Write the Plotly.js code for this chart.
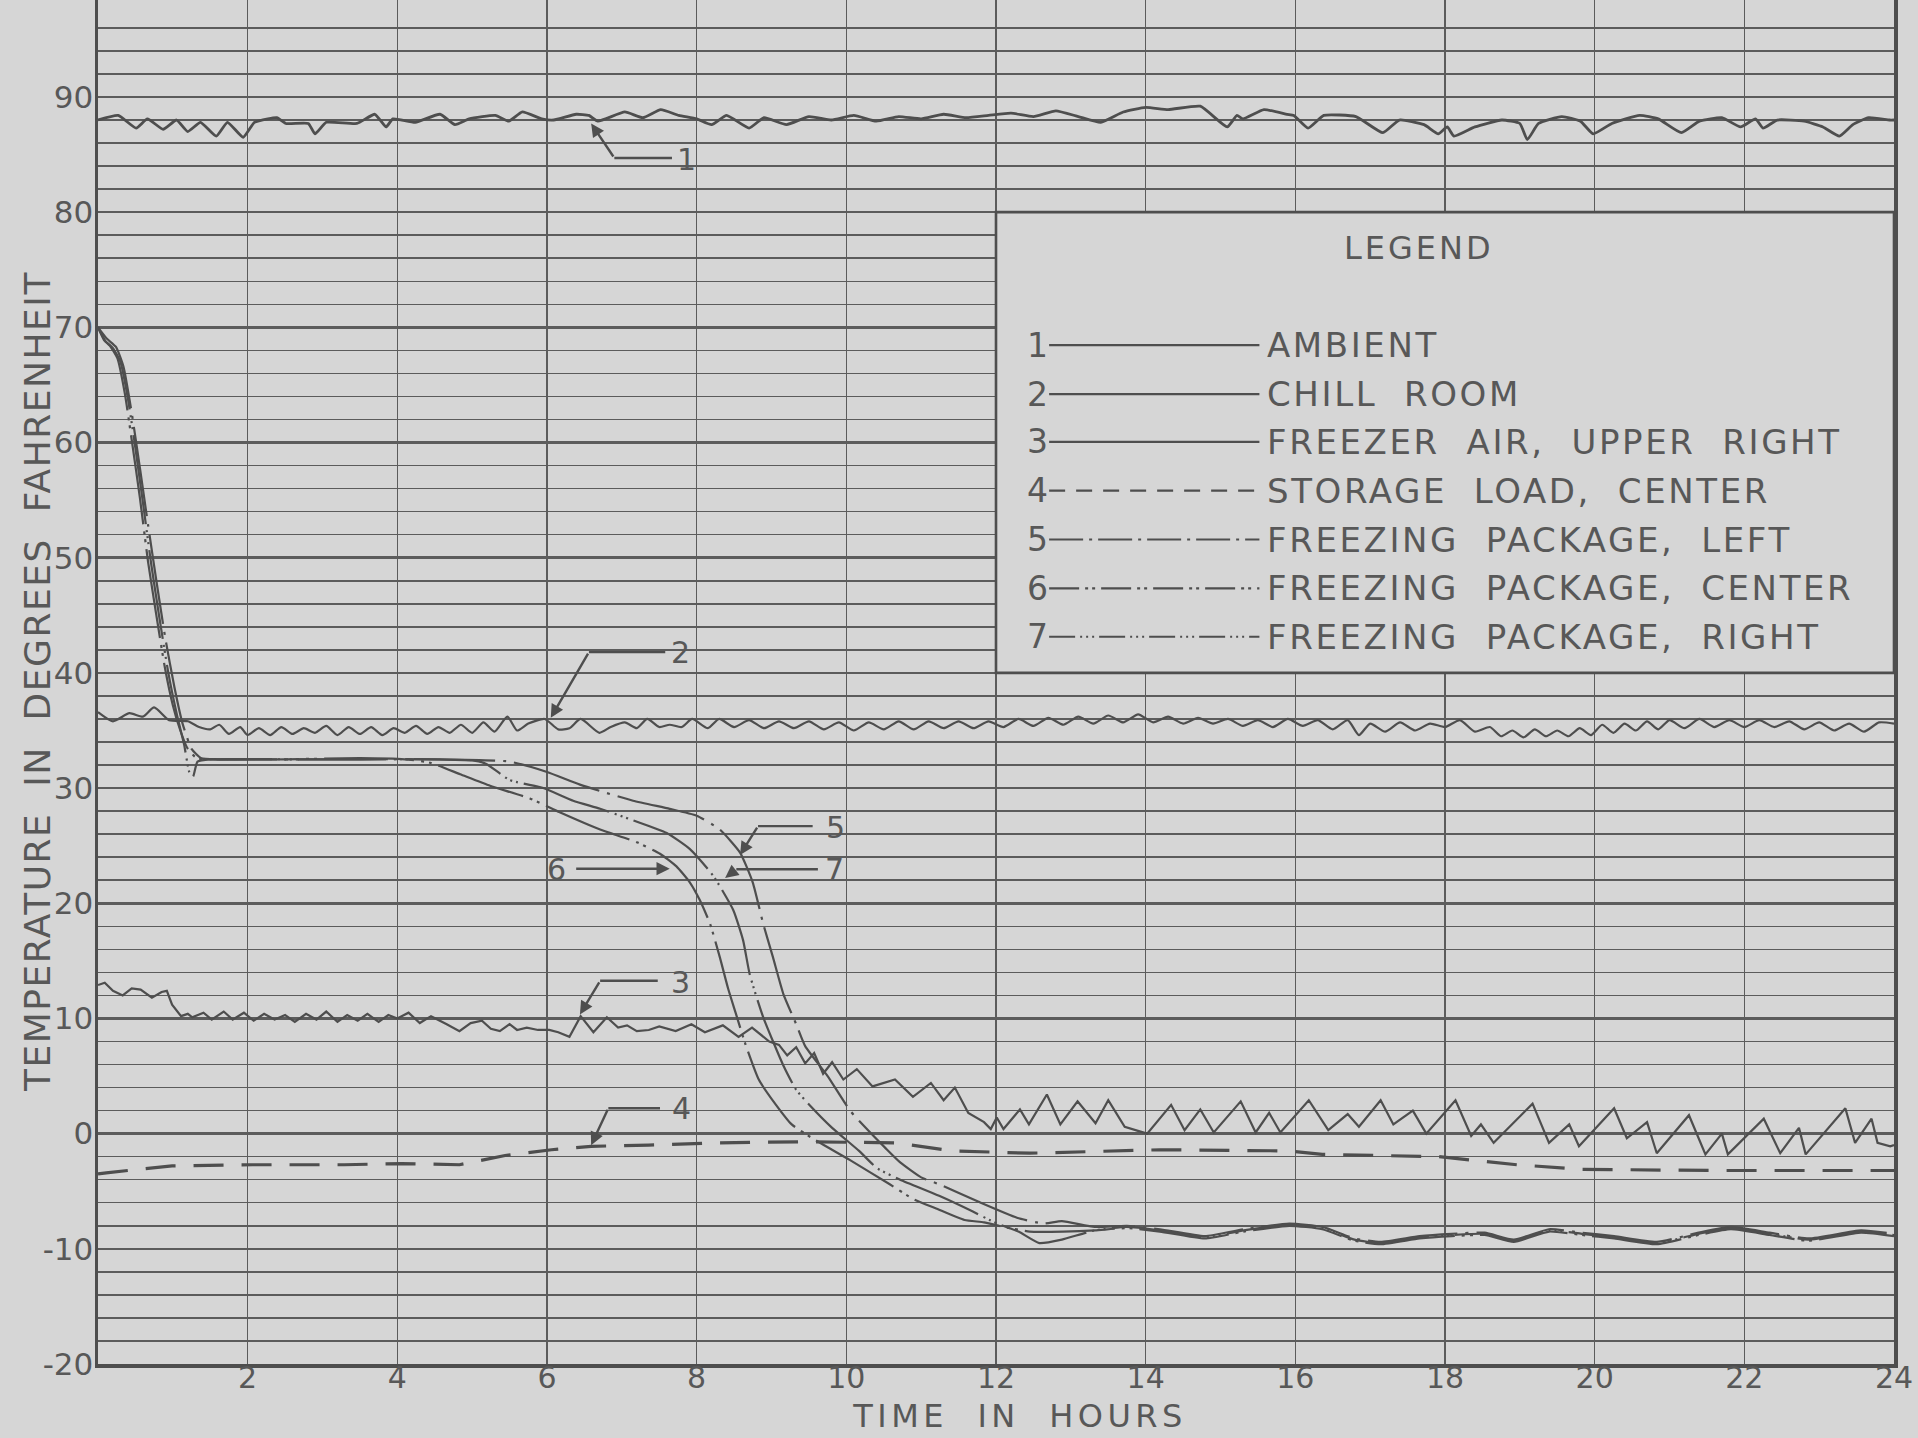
<!DOCTYPE html>
<html>
<head>
<meta charset="utf-8">
<script src="https://cdn.plot.ly/plotly-3.0.1.min.js"></script>
<style>
  html, body { margin: 0; padding: 0; background: #d6d6d6; }
  #chart { width: 1918px; height: 1438px; }
</style>
</head>
<body>
<div id="chart"></div>
<script>
// Temperature records over 24 hours: [hour, degrees F]
const ambient = [
  [0.0,88.0],[0.27,88.4],[0.51,87.3],[0.66,88.1],[0.87,87.2],[1.05,88.0],[1.2,87.0],[1.37,87.8],
  [1.58,86.6],[1.73,87.8],[1.94,86.5],[2.09,87.8],[2.27,88.1],[2.39,88.2],[2.51,87.7],[2.81,87.7],
  [2.9,86.8],[3.05,87.8],[3.46,87.7],[3.7,88.5],[3.85,87.4],[3.94,88.1],[4.24,87.8],[4.57,88.5],
  [4.77,87.6],[4.96,88.1],[5.31,88.4],[5.49,87.9],[5.67,88.7],[5.93,88.1],[6.09,88.0],[6.39,88.5],
  [6.56,88.4],[6.68,87.9],[7.04,88.7],[7.28,88.2],[7.52,88.9],[7.76,88.4],[8.0,88.1],[8.2,87.6],
  [8.4,88.4],[8.7,87.3],[8.9,88.2],[9.2,87.6],[9.5,88.3],[9.8,88.0],[10.1,88.4],[10.4,87.9],
  [10.7,88.3],[11.0,88.1],[11.3,88.5],[11.6,88.2],[11.9,88.4],[12.2,88.6],[12.5,88.3],[12.8,88.8],
  [13.1,88.3],[13.4,87.8],[13.7,88.7],[14.0,89.1],[14.3,88.9],[14.73,89.2],[15.09,87.4],[15.22,88.4],
  [15.3,88.1],[15.58,88.9],[15.89,88.5],[15.98,88.4],[16.17,87.3],[16.38,88.4],[16.81,88.3],[17.17,86.9],
  [17.39,88.0],[17.72,87.6],[17.91,86.8],[18.03,87.4],[18.12,86.6],[18.4,87.4],[18.76,88.0],[19.0,87.7],
  [19.1,86.3],[19.25,87.7],[19.56,88.3],[19.81,87.9],[19.98,86.8],[20.23,87.7],[20.6,88.4],[20.85,88.1],
  [21.16,86.9],[21.4,87.9],[21.7,88.2],[21.95,87.4],[22.15,88.1],[22.25,87.3],[22.44,88.0],[22.8,87.9],
  [23.05,87.4],[23.27,86.6],[23.45,87.6],[23.66,88.2],[23.94,88.0],[24.0,88.0]
];

const chillRoom = [
  [0.0,36.6],[0.2,35.8],[0.42,36.5],[0.6,36.2],[0.75,37.0],[0.95,35.9],[1.2,35.8],[1.35,35.3],
  [1.5,35.1],[1.62,35.5],[1.75,34.7],[1.9,35.3],[2.0,34.6],[2.15,35.2],[2.3,34.6],[2.45,35.3],
  [2.6,34.7],[2.75,35.2],[2.9,34.8],[3.05,35.4],[3.2,34.6],[3.35,35.3],[3.5,34.7],[3.65,35.3],
  [3.8,34.6],[3.95,35.2],[4.1,34.8],[4.25,35.4],[4.4,34.7],[4.55,35.3],[4.7,34.8],[4.85,35.5],
  [5.0,34.8],[5.15,35.7],[5.3,34.9],[5.47,36.2],[5.6,35.0],[5.75,35.6],[5.97,36.0],[6.15,35.1],
  [6.3,35.2],[6.45,36.0],[6.7,34.8],[6.85,35.3],[7.04,35.7],[7.2,35.2],[7.34,36.0],[7.5,35.3],
  [7.64,35.5],[7.8,35.3],[7.94,36.0],[8.15,35.2],[8.3,36.0],[8.5,35.3],[8.7,35.9],[8.9,35.2],
  [9.1,35.8],[9.3,35.2],[9.5,35.8],[9.7,35.1],[9.9,35.7],[10.1,35.0],[10.3,35.7],[10.5,35.1],
  [10.7,35.8],[10.9,35.1],[11.1,35.8],[11.3,35.2],[11.5,35.8],[11.7,35.2],[11.9,35.8],[12.1,35.3],
  [12.3,36.0],[12.5,35.4],[12.7,36.1],[12.9,35.5],[13.1,36.2],[13.3,35.6],[13.5,36.3],[13.7,35.7],
  [13.9,36.4],[14.1,35.7],[14.3,36.2],[14.5,35.6],[14.7,36.1],[14.9,35.6],[15.1,36.0],[15.3,35.4],
  [15.5,35.9],[15.7,35.3],[15.9,36.0],[16.1,35.4],[16.3,35.9],[16.5,35.1],[16.7,35.9],[16.85,34.6],
  [17.0,35.6],[17.2,34.9],[17.4,35.7],[17.6,35.0],[17.8,35.6],[18.0,35.3],[18.2,35.9],[18.4,34.9],
  [18.6,35.3],[18.75,34.5],[18.9,35.0],[19.05,34.4],[19.2,35.1],[19.35,34.5],[19.5,35.0],[19.65,34.5],
  [19.8,35.2],[19.95,34.6],[20.1,35.5],[20.25,34.8],[20.4,35.6],[20.55,35.0],[20.7,35.8],[20.85,35.1],
  [21.0,35.9],[21.2,35.2],[21.4,36.0],[21.6,35.3],[21.8,35.9],[22.0,35.3],[22.2,35.9],[22.4,35.3],
  [22.6,35.8],[22.8,35.1],[23.0,35.7],[23.2,35.0],[23.4,35.6],[23.6,34.9],[23.8,35.7],[24.0,35.6]
];

const freezerAir = [
  [0.0,12.9],[0.09,13.1],[0.2,12.4],[0.33,12.0],[0.45,12.6],[0.57,12.5],[0.72,11.8],[0.85,12.3],
  [0.92,12.4],[0.99,11.2],[1.11,10.2],[1.2,10.4],[1.26,10.1],[1.41,10.5],[1.52,9.9],[1.68,10.6],
  [1.8,9.9],[1.95,10.5],[2.08,9.8],[2.22,10.4],[2.36,9.9],[2.5,10.3],[2.63,9.7],[2.78,10.4],
  [2.92,9.9],[3.05,10.6],[3.2,9.7],[3.33,10.3],[3.47,9.8],[3.6,10.4],[3.75,9.7],[3.88,10.3],
  [4.0,10.0],[4.15,10.5],[4.3,9.6],[4.45,10.2],[4.66,9.5],[4.83,8.9],[4.98,9.6],[5.13,9.8],
  [5.25,9.1],[5.37,8.9],[5.5,9.5],[5.6,9.0],[5.73,9.2],[5.88,9.0],[6.03,9.0],[6.15,8.8],
  [6.3,8.4],[6.45,10.2],[6.62,8.8],[6.8,10.1],[6.95,9.2],[7.07,9.4],[7.2,8.9],[7.36,9.0],
  [7.5,9.3],[7.72,8.9],[7.93,9.5],[8.11,8.8],[8.35,9.4],[8.56,8.4],[8.74,9.2],[8.97,8.0],
  [9.1,7.7],[9.21,6.8],[9.33,7.5],[9.45,6.1],[9.57,7.0],[9.69,5.2],[9.81,6.2],[9.96,4.7],
  [10.14,5.6],[10.35,4.1],[10.65,4.7],[10.89,3.2],[11.13,4.4],[11.3,2.9],[11.45,4.0],[11.63,1.8],
  [11.84,1.0],[11.93,0.4],[12.01,1.4],[12.1,0.4],[12.32,2.1],[12.44,0.8],[12.68,3.4],[12.86,0.8],
  [13.09,2.8],[13.33,0.9],[13.5,2.9],[13.72,0.6],[14.02,0.0],[14.34,2.5],[14.52,0.3],[14.73,2.1],
  [14.91,0.1],[15.27,2.8],[15.47,0.1],[15.65,1.8],[15.8,0.1],[16.18,2.9],[16.44,0.3],[16.7,1.7],
  [16.85,0.6],[17.14,2.9],[17.31,0.8],[17.57,2.0],[17.75,0.0],[18.14,2.9],[18.35,-0.2],[18.48,0.8],
  [18.65,-0.8],[19.17,2.6],[19.39,-0.8],[19.66,0.8],[19.79,-1.1],[20.26,2.2],[20.43,-0.4],[20.7,1.0],
  [20.83,-1.7],[21.26,1.6],[21.48,-1.8],[21.7,0.0],[21.78,-1.8],[22.26,1.3],[22.48,-1.7],[22.73,0.5],
  [22.82,-1.8],[23.35,2.2],[23.48,-0.8],[23.7,1.3],[23.78,-0.8],[23.95,-1.1],[24.0,-1.0]
];

const storageLoad = [
  [0.0,-3.5],[0.11,-3.4],[0.99,-2.8],[2.07,-2.7],[3.29,-2.7],[4.06,-2.6],[4.83,-2.7],[5.06,-2.4],
  [5.44,-1.9],[6.06,-1.4],[6.59,-1.1],[7.36,-1.0],[8.28,-0.8],[9.43,-0.7],[10.66,-0.8],[11.41,-1.5],
  [12.45,-1.7],[14.19,-1.4],[15.92,-1.5],[16.36,-1.8],[17.23,-1.9],[17.92,-2.0],[18.35,-2.3],[18.96,-2.7],
  [19.83,-3.1],[21.56,-3.2],[23.73,-3.2],[24.0,-3.2]
];

const packageLeft = [
  [0.0,70.0],[0.12,69.0],[0.24,68.3],[0.34,66.6],[0.45,62.6],[0.56,57.8],[0.67,52.8],[0.78,48.0],
  [0.9,43.0],[1.02,38.8],[1.13,35.6],[1.25,33.4],[1.38,32.6],[1.6,32.5],[2.5,32.5],[3.5,32.5],
  [4.5,32.5],[5.5,32.3],[6.0,31.4],[6.44,30.3],[7.15,28.9],[7.64,28.2],[8.0,27.6],[8.31,26.4],
  [8.58,24.4],[8.75,21.8],[8.89,18.2],[9.02,15.3],[9.16,12.1],[9.33,9.5],[9.45,7.6],[9.75,5.0],
  [10.05,2.0],[10.23,0.7],[10.53,-1.3],[10.72,-2.5],[11.0,-3.8],[11.24,-4.4],[11.76,-5.9],[12.28,-7.3],
  [12.63,-7.8],[12.88,-7.6],[13.32,-8.1],[13.75,-8.0],[14.19,-8.3],[14.79,-8.9],[15.31,-8.3],[15.92,-7.8],
  [16.36,-8.1],[16.79,-9.1],[17.14,-9.4],[17.66,-8.9],[18.09,-8.7],[18.53,-8.6],[18.92,-9.2],[19.39,-8.3],
  [19.83,-8.6],[20.26,-8.9],[20.83,-9.4],[21.39,-8.6],[21.82,-8.1],[22.34,-8.6],[22.86,-9.1],[23.56,-8.4],
  [24.0,-8.7]
];

const packageCenter = [
  [0.0,70.0],[0.08,68.9],[0.16,68.4],[0.26,67.3],[0.36,64.2],[0.46,59.8],[0.56,55.2],[0.67,49.6],
  [0.78,45.0],[0.89,40.6],[1.0,37.2],[1.1,35.0],[1.2,33.4],[1.32,32.6],[1.5,32.5],[2.5,32.5],
  [3.5,32.6],[4.1,32.5],[4.44,32.2],[4.84,31.2],[5.24,30.2],[5.77,29.1],[6.17,27.9],[6.71,26.4],
  [7.2,25.3],[7.51,24.3],[7.73,23.2],[7.91,21.8],[8.04,20.3],[8.18,18.2],[8.31,15.3],[8.42,12.6],
  [8.52,10.5],[8.65,7.8],[8.83,4.7],[9.06,2.5],[9.27,0.8],[9.57,-0.5],[10.05,-2.3],[10.58,-4.4],
  [10.9,-5.7],[11.2,-6.5],[11.58,-7.5],[11.84,-7.7],[12.1,-8.1],[12.45,-8.5],[12.9,-8.5],[13.32,-8.4],
  [13.75,-8.2],[14.19,-8.5],[14.79,-9.1],[15.31,-8.5],[15.92,-8.0],[16.36,-8.3],[16.79,-9.3],[17.14,-9.6],
  [17.66,-9.1],[18.09,-8.9],[18.53,-8.8],[18.92,-9.4],[19.39,-8.5],[19.83,-8.8],[20.26,-9.1],[20.83,-9.6],
  [21.39,-8.8],[21.82,-8.3],[22.34,-8.8],[22.86,-9.3],[23.56,-8.6],[24.0,-8.9]
];

const packageRight = [
  [0.0,70.0],[0.1,68.8],[0.2,68.2],[0.3,67.0],[0.4,63.8],[0.5,59.5],[0.6,54.8],[0.71,49.5],
  [0.82,44.8],[0.94,40.0],[1.05,36.5],[1.15,33.8],[1.22,31.4],[1.27,31.0],[1.33,32.3],[1.5,32.5],
  [2.5,32.5],[3.5,32.5],[4.5,32.5],[5.0,32.4],[5.19,32.1],[5.5,30.7],[5.95,30.0],[6.35,28.9],
  [6.71,28.2],[7.15,27.2],[7.6,26.1],[7.91,24.7],[8.22,22.4],[8.49,19.4],[8.62,16.8],[8.71,13.8],
  [8.89,10.1],[9.16,5.9],[9.33,3.8],[9.52,2.4],[9.81,0.5],[10.17,-1.5],[10.41,-3.0],[10.72,-4.0],
  [11.24,-5.4],[11.67,-6.7],[12.01,-7.8],[12.3,-8.5],[12.58,-9.5],[12.88,-9.2],[13.32,-8.4],[13.75,-8.1],
  [14.19,-8.4],[14.79,-9.0],[15.31,-8.4],[15.92,-7.9],[16.36,-8.2],[16.79,-9.2],[17.14,-9.5],[17.66,-9.0],
  [18.09,-8.8],[18.53,-8.7],[18.92,-9.3],[19.39,-8.4],[19.83,-8.7],[20.26,-9.0],[20.83,-9.5],[21.39,-8.7],
  [21.82,-8.2],[22.34,-8.7],[22.86,-9.2],[23.56,-8.5],[24.0,-8.8]
];

// Axis ticks
const hourTicks = [2, 4, 6, 8, 10, 12, 14, 16, 18, 20, 22, 24];
const hourTickText = ['2', '4', '6', '8', '10', '12', '14', '16', '18', '20', '22', '24'];
const tempTicks = [90, 80, 70, 60, 50, 40, 30, 20, 10, 0, -10, -20];
const tempTickText = ['90', '80', '70', '60', '50', '40', '30', '20', '10', '0', '-10', '-20'];

// Legend entries
const legendNumbers = ['1', '2', '3', '4', '5', '6', '7'];
const legendNames = [
  'AMBIENT', 'CHILL ROOM', 'FREEZER AIR, UPPER RIGHT', 'STORAGE LOAD, CENTER',
  'FREEZING PACKAGE, LEFT', 'FREEZING PACKAGE, CENTER', 'FREEZING PACKAGE, RIGHT'
];

// ---------------- styling ----------------
const BG = '#d6d6d6';
const INK = '#4e4e4e';
const TEXT = '#585858';
const GRID = '#5c5c5c';
const FONT = 'DejaVu Sans, Liberation Sans, sans-serif';

const dashes = {
  storage: '30px,18px',
  left: '90px,8px,3px,8px',
  center: '90px,7px,3px,5px,3px,7px',
  right: '90px,6px,2px,4px,2px,4px,2px,6px'
};
const legendDashes = [
  'solid', 'solid', 'solid', '16px,11px',
  '34px,6px,3px,6px', '30px,6px,3px,4px,3px,6px', '26px,5px,2px,4px,2px,4px,2px,5px'
];

function line(points, width, dash, shape, smoothing) {
  return {
    type: 'scatter', mode: 'lines',
    x: points.map(p => p[0]), y: points.map(p => p[1]),
    line: { color: INK, width: width, dash: dash, shape: shape || 'linear', smoothing: smoothing || 0.5 },
    hoverinfo: 'skip'
  };
}

const traces = [
  line(ambient, 2.8, 'solid', 'spline', 0.45),
  line(chillRoom, 2.2, 'solid', 'spline', 0.6),
  line(freezerAir, 2.2, 'solid'),
  line(storageLoad, 3.2, dashes.storage),
  line(packageLeft, 2.2, dashes.left, 'spline'),
  line(packageCenter, 2.2, dashes.center, 'spline'),
  line(packageRight, 2.2, dashes.right, 'spline')
];

// minor horizontal rules every 2 degrees
const minorRules = [];
for (let v = -18; v <= 96; v += 2) { if (v % 10 !== 0) minorRules.push(v); }

// ---------------- callouts ----------------
const calloutText = ['1', '2', '3', '4', '5', '7'];
const calloutTip = [[6.59, 87.7], [6.05, 36.1], [6.44, 10.35], [6.59, -1.0], [8.58, 24.2], [8.38, 22.2]];
const calloutElbow = [[6.9, 84.7], [6.56, 41.8], [6.71, 13.27], [6.82, 2.2], [8.82, 26.7], [8.53, 22.95]];
const calloutEnd = [[7.67, 84.7], [7.58, 41.8], [7.48, 13.27], [7.51, 2.2], [9.55, 26.7], [9.62, 22.95]];
const calloutLabel = [[7.87, 84.6], [7.78, 41.8], [7.78, 13.1], [7.8, 2.2], [9.86, 26.6], [9.84, 22.95]];

const shapes = [];
const annotations = [];
const spacing = [];

function addNote(opts, letterSpacing) {
  if (letterSpacing) spacing.push([annotations.length, letterSpacing]);
  annotations.push(opts);
}

calloutText.forEach((t, i) => {
  shapes.push({
    type: 'line', xref: 'x', yref: 'y', layer: 'above',
    x0: calloutElbow[i][0], y0: calloutElbow[i][1], x1: calloutEnd[i][0], y1: calloutEnd[i][1],
    line: { color: INK, width: 2.4 }
  });
  addNote({
    xref: 'x', yref: 'y', axref: 'x', ayref: 'y',
    x: calloutTip[i][0], y: calloutTip[i][1], ax: calloutElbow[i][0], ay: calloutElbow[i][1],
    text: '', showarrow: true, arrowhead: 2, arrowsize: 1.1, arrowwidth: 2.4, arrowcolor: INK, standoff: 0
  });
  addNote({
    xref: 'x', yref: 'y', x: calloutLabel[i][0], y: calloutLabel[i][1],
    text: t, showarrow: false, font: { family: FONT, size: 30, color: TEXT }
  });
});
// callout 6 points straight across
addNote({
  xref: 'x', yref: 'y', axref: 'x', ayref: 'y',
  x: 7.64, y: 23.0, ax: 6.37, ay: 23.0,
  text: '', showarrow: true, arrowhead: 2, arrowsize: 1.1, arrowwidth: 2.4, arrowcolor: INK, standoff: 0
});
addNote({
  xref: 'x', yref: 'y', x: 6.13, y: 22.95, text: '6', showarrow: false,
  font: { family: FONT, size: 30, color: TEXT }
});

// ---------------- legend panel ----------------
shapes.push({
  type: 'rect', xref: 'x', yref: 'y', layer: 'above',
  x0: 12, x1: 24, y0: 40, y1: 80,
  fillcolor: BG, line: { color: INK, width: 2.6 }
});
addNote({
  xref: 'x', yref: 'y', x: 17.65, y: 76.9, text: 'LEGEND', showarrow: false,
  font: { family: FONT, size: 32, color: TEXT }
}, 3);
const legendRowY = [68.45, 64.21, 60.06, 55.82, 51.58, 47.33, 43.14];
legendNames.forEach((name, i) => {
  addNote({
    xref: 'x', yref: 'y', x: 12.55, y: legendRowY[i], text: legendNumbers[i], showarrow: false,
    font: { family: FONT, size: 33, color: TEXT }
  });
  shapes.push({
    type: 'line', xref: 'x', yref: 'y', layer: 'above',
    x0: 12.71, x1: 15.52, y0: legendRowY[i], y1: legendRowY[i],
    line: { color: INK, width: 2.2, dash: legendDashes[i] }
  });
  addNote({
    xref: 'x', yref: 'y', x: 15.6, y: legendRowY[i], xanchor: 'left', align: 'left',
    text: name.split(' ').join('\u00a0\u00a0'), showarrow: false,
    font: { family: FONT, size: 34, color: TEXT }
  }, 2.6);
});

// ---------------- axis titles ----------------
addNote({
  xref: 'paper', yref: 'paper', x: 0.513, y: -0.0535, xanchor: 'center', yanchor: 'bottom',
  text: 'TIME\u00a0\u00a0IN\u00a0\u00a0HOURS', showarrow: false,
  font: { family: FONT, size: 32, color: TEXT }
}, 4.5);
addNote({
  xref: 'paper', yref: 'paper', x: -0.034, y: 0.5007, xanchor: 'center', yanchor: 'middle',
  textangle: -90, text: 'TEMPERATURE\u00a0\u00a0IN\u00a0\u00a0DEGREES\u00a0\u00a0FAHRENHEIT', showarrow: false,
  font: { family: FONT, size: 36, color: TEXT }
}, 1.5);

const layout = {
  width: 1918, height: 1438,
  margin: { l: 98, r: 24, t: 0, b: 74, pad: 0 },
  paper_bgcolor: BG, plot_bgcolor: BG,
  showlegend: false,
  font: { family: FONT, color: TEXT },
  xaxis: {
    range: [0, 24], tickmode: 'array', tickvals: hourTicks, ticktext: hourTickText,
    showgrid: true, gridcolor: GRID, gridwidth: 1.6, zeroline: false,
    showline: true, linecolor: INK, linewidth: 3.5, ticks: '', ticklabelstandoff: -16,
    tickfont: { family: FONT, size: 30, color: TEXT }
  },
  yaxis: {
    range: [-20, 98.42], tickmode: 'array', tickvals: tempTicks, ticktext: tempTickText,
    showgrid: true, gridcolor: GRID, gridwidth: 2.6, zeroline: false,
    minor: { tickmode: 'array', tickvals: minorRules, showgrid: true, gridcolor: GRID, gridwidth: 1.5, ticks: '' },
    showline: true, linecolor: INK, linewidth: 3.5, mirror: true, ticks: '', ticklabelstandoff: -5,
    tickfont: { family: FONT, size: 31, color: TEXT }
  },
  shapes: shapes,
  annotations: annotations
};

Plotly.newPlot('chart', traces, layout, { staticPlot: true, displayModeBar: false }).then(gd => {
  spacing.forEach(([idx, px]) => {
    const el = gd.querySelector('.annotation[data-index="' + idx + '"] .annotation-text');
    if (el) el.style.letterSpacing = px + 'px';
  });
});
</script>
</body>
</html>
